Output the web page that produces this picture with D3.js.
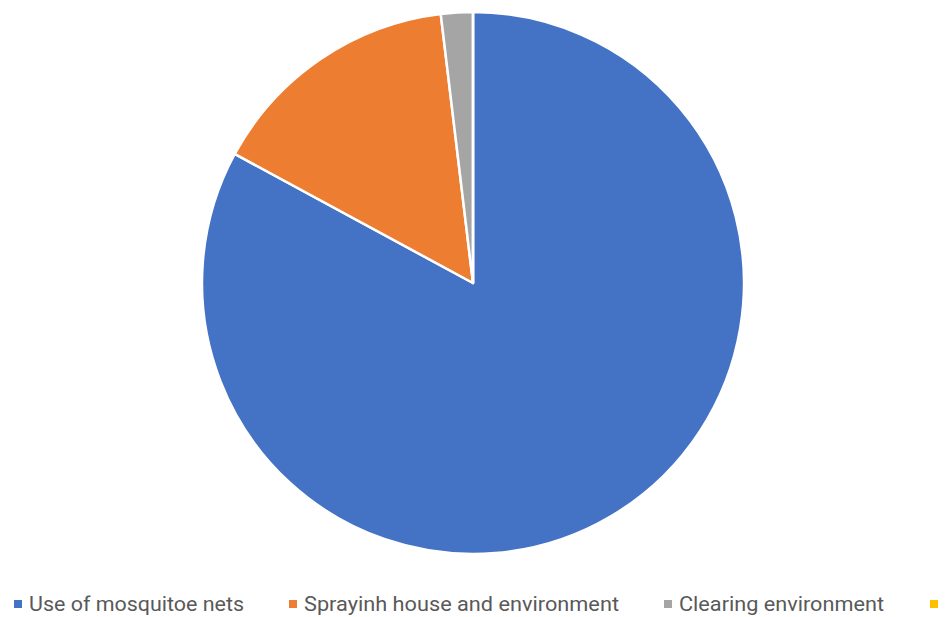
<!DOCTYPE html>
<html>
<head>
<meta charset="utf-8">
<script src="https://cdn.jsdelivr.net/npm/d3@7"></script>
<style>
  body { margin: 0; background: #fff; }
  svg { display: block; }
</style>
</head>
<body>
<svg id="chart" width="949" height="617"></svg>
<script>
const categories = ["Use of mosquitoe nets", "Sprayinh house and environment", "Clearing environment", ""];
const values = [82.9, 15.2, 1.9, 0];
const colors = ["#4472C4", "#ED7D31", "#A5A5A5", "#FFC000"];

const svg = d3.select("#chart");
const cx = 473, cy = 283, r = 271;

const pie = d3.pie().sort(null).value(d => d)(values);
const arc = d3.arc().innerRadius(0).outerRadius(r);

svg.append("g")
  .attr("transform", `translate(${cx},${cy})`)
  .selectAll("path")
  .data(pie)
  .join("path")
  .attr("d", arc)
  .attr("fill", (d, i) => colors[i])
  .attr("stroke", "#fff")
  .attr("stroke-width", 2.5)
  .attr("stroke-linejoin", "round");

// legend (Calibri isn't available, so stretch the text to the original widths)
const legendX = [14, 289, 664, 930];
const legendW = [215, 315, 205, 0];
const legend = svg.append("g");
categories.forEach((c, i) => {
  legend.append("rect")
    .attr("x", legendX[i]).attr("y", 600)
    .attr("width", 8).attr("height", 8)
    .attr("fill", colors[i]);
  const t = legend.append("text")
    .attr("x", legendX[i] + 15).attr("y", 611)
    .attr("font-family", "Roboto, 'Liberation Sans', sans-serif")
    .attr("font-size", 20)
    .attr("fill", "#595959")
    .text(c);
  if (legendW[i] > 0) t.attr("textLength", legendW[i]).attr("lengthAdjust", "spacingAndGlyphs");
});
</script>
</body>
</html>
